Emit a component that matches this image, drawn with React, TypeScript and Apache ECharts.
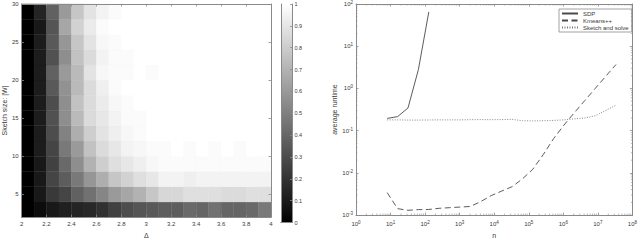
import React, { useEffect, useRef } from 'react';
import * as echarts from 'echarts';

// ---------- Left panel: heatmap ----------
const deltas = [2.05, 2.15, 2.25, 2.35, 2.45, 2.55, 2.65, 2.75, 2.85, 2.95, 3.05, 3.15, 3.25, 3.35, 3.45, 3.55, 3.65, 3.75, 3.85, 3.95];
const sketchSizes = [3, 5, 7, 9, 11, 13, 15, 17, 19, 21, 23, 25, 27, 29];
// one row per sketch size (3 .. 29), one value per delta
const accuracy: number[][] = [
  [0, 0.06, 0.1, 0.13, 0.15, 0.16, 0.2, 0.26, 0.3, 0.33, 0.35, 0.36, 0.37, 0.42, 0.4, 0.45, 0.4, 0.4, 0.42, 0.48],
  [0, 0.1, 0.22, 0.27, 0.38, 0.45, 0.52, 0.6, 0.65, 0.7, 0.78, 0.83, 0.84, 0.86, 0.87, 0.86, 0.85, 0.85, 0.86, 0.86],
  [0, 0.1, 0.27, 0.36, 0.47, 0.58, 0.68, 0.77, 0.82, 0.87, 0.9, 0.94, 0.95, 0.93, 0.94, 0.94, 0.95, 0.95, 0.94, 0.95],
  [0, 0.1, 0.25, 0.42, 0.55, 0.7, 0.8, 0.86, 0.9, 0.93, 0.96, 0.97, 0.97, 0.97, 0.98, 0.97, 0.97, 0.98, 0.97, 0.98],
  [0, 0.12, 0.28, 0.47, 0.6, 0.75, 0.85, 0.9, 0.94, 0.96, 0.97, 0.98, 0.99, 0.98, 0.99, 0.98, 0.99, 0.98, 0.99, 0.99],
  [0, 0.12, 0.3, 0.5, 0.68, 0.8, 0.88, 0.93, 0.96, 0.98, 0.99, 0.99, 1, 1, 1, 1, 1, 1, 1, 1],
  [0, 0.12, 0.32, 0.55, 0.72, 0.85, 0.9, 0.95, 0.97, 0.98, 0.99, 1, 1, 1, 1, 1, 1, 1, 1, 1],
  [0, 0.12, 0.3, 0.55, 0.75, 0.85, 0.92, 0.96, 0.98, 0.99, 1, 1, 1, 1, 1, 1, 1, 1, 1, 1],
  [0, 0.12, 0.35, 0.57, 0.72, 0.85, 0.93, 0.97, 1, 1, 1, 1, 1, 1, 1, 1, 1, 1, 1, 1],
  [0, 0.12, 0.38, 0.6, 0.72, 0.88, 0.96, 0.98, 0.98, 0.99, 0.97, 1, 1, 1, 1, 1, 1, 1, 1, 1],
  [0, 0.12, 0.32, 0.55, 0.75, 0.85, 0.95, 0.98, 0.98, 0.99, 1, 1, 1, 1, 1, 1, 1, 1, 1, 1],
  [0, 0.12, 0.35, 0.58, 0.78, 0.88, 0.96, 0.98, 1, 1, 1, 1, 1, 1, 1, 1, 1, 1, 1, 1],
  [0, 0.1, 0.33, 0.65, 0.82, 0.92, 0.98, 1, 1, 1, 1, 1, 1, 1, 1, 1, 1, 1, 1, 1],
  [0, 0.15, 0.38, 0.6, 0.78, 0.88, 0.94, 0.97, 1, 1, 1, 1, 1, 1, 1, 1, 1, 1, 1, 1],
];
const sizeTicks = [5, 10, 15, 20, 25, 30];
const colorbarTop = [1];

// ---------- Right panel: runtimes ----------
const nValues = [8, 16, 32, 64, 128, 256, 512, 1024, 2048, 4096, 8192, 16384, 32768, 65536, 131072, 262144, 524288, 1048576, 2097152, 4194304, 8388608, 16777216, 33554432];
const sdpTime = [0.195, 0.215, 0.345, 2.8, 65];
const kmeansTime = [0.0034, 0.00142, 0.0013, 0.00135, 0.00136, 0.00145, 0.0015, 0.00155, 0.0016, 0.0021, 0.0029, 0.0037, 0.0047, 0.0072, 0.0122, 0.027, 0.065, 0.136, 0.268, 0.518, 1.0, 1.93, 3.69];
const sketchTime = [0.18, 0.18, 0.178, 0.178, 0.179, 0.18, 0.18, 0.18, 0.182, 0.183, 0.182, 0.183, 0.185, 0.172, 0.17, 0.172, 0.175, 0.18, 0.19, 0.2, 0.225, 0.3, 0.4];
const xDecades = [0, 1, 2, 3, 4, 5, 6, 7];
const yDecades = [-3, -2, -1, 0, 1];
const minorMultipliers = [2, 3, 4, 5, 6, 7, 8, 9];

const FONT = 'Liberation Sans';
const AXIS = '#8a8a8a';
const TXT = '#3a3a3a';

function gray(v: number) {
  const idx = Math.max(0, Math.min(63, Math.floor(v * 64)));
  const g = Math.round((idx / 63) * 255);
  return `rgb(${g},${g},${g})`;
}

export default function App() {
  const ref = useRef<HTMLDivElement>(null);
  useEffect(() => {
    if (!ref.current) return;
    const chart = echarts.init(ref.current, undefined, { renderer: 'svg' });

    const heatData: number[][] = [];
    sketchSizes.forEach((s, r) => deltas.forEach((d, c) => heatData.push([d, s, accuracy[r][c]])));
    const dx = deltas[1] - deltas[0];
    const dy = sketchSizes[1] - sketchSizes[0];

    const minorX: number[][] = [];
    xDecades.forEach((k) => minorMultipliers.forEach((m) => minorX.push([m * Math.pow(10, k), 1])));
    const minorY: number[][] = [];
    yDecades.forEach((k) => minorMultipliers.forEach((m) => minorY.push([1, m * Math.pow(10, k)])));

    const lineAxis = { show: true, lineStyle: { color: AXIS, width: 1 } };
    const tickIn = { show: true, inside: true, length: 2.5, lineStyle: { color: AXIS, width: 0.8 } };
    const lbl = { color: TXT, fontSize: 6, fontFamily: FONT };
    const nameStyle = { color: TXT, fontSize: 7, fontFamily: FONT };
    const logFmt = (v: number) => `{b|10}{e|${Math.round(Math.log10(v))}}`;
    const rich = {
      b: { fontSize: 6, fontFamily: FONT, color: TXT },
      e: { fontSize: 4.5, fontFamily: FONT, color: TXT, verticalAlign: 'top', padding: [0, 0, 3, 0] },
    };

    const option: any = {
      animation: false,
      textStyle: { fontFamily: FONT },
      grid: [
        { left: 18, top: 4, width: 253, height: 218.5 },
        { left: 281, top: 4, width: 11, height: 218.5 },
        { left: 356, top: 4, width: 279, height: 218.7 },
      ],
      legend: {
        data: ['SDP', 'Kmeans++', 'Sketch and solve'],
        orient: 'vertical',
        left: 559,
        top: 9,
        padding: [1.5, 3, 1.5, 2],
        itemWidth: 16,
        itemHeight: 6.5,
        itemGap: 1,
        backgroundColor: '#fff',
        borderColor: '#8a8a8a',
        borderWidth: 0.8,
        borderRadius: 0,
        itemStyle: { opacity: 0 },
        textStyle: { color: TXT, fontSize: 6, fontFamily: FONT },
      },
      xAxis: [
        { gridIndex: 0, type: 'value', min: 2, max: 4, interval: 0.2, position: 'bottom', z: 10,
          axisLine: lineAxis, axisTick: tickIn, splitLine: { show: false },
          axisLabel: { ...lbl, margin: 4 },
          name: 'Δ', nameLocation: 'middle', nameGap: 13, nameTextStyle: nameStyle },
        { gridIndex: 0, type: 'value', min: 2, max: 4, interval: 0.2, position: 'top', z: 10,
          axisLine: lineAxis, axisTick: tickIn, splitLine: { show: false }, axisLabel: { show: false } },
        { gridIndex: 1, type: 'category', data: ['cb'], position: 'bottom', z: 10,
          axisLine: lineAxis, axisTick: { show: false }, axisLabel: { show: false } },
        { gridIndex: 1, type: 'category', data: ['cb'], position: 'top', z: 10,
          axisLine: lineAxis, axisTick: { show: false }, axisLabel: { show: false } },
        { gridIndex: 2, type: 'log', logBase: 10, min: 1, max: 1e8, position: 'bottom', z: 10,
          axisLine: lineAxis, axisTick: tickIn, splitLine: { show: false },
          axisLabel: { formatter: logFmt, rich, margin: 5 },
          name: 'n', nameLocation: 'middle', nameGap: 14, nameTextStyle: nameStyle },
        { gridIndex: 2, type: 'log', logBase: 10, min: 1, max: 1e8, position: 'top', z: 10,
          axisLine: lineAxis, axisTick: tickIn, splitLine: { show: false }, axisLabel: { show: false } },
      ],
      yAxis: [
        { gridIndex: 0, type: 'value', min: 2, max: 30, position: 'left', z: 10,
          axisLine: lineAxis, axisTick: { ...tickIn, customValues: sizeTicks }, splitLine: { show: false },
          axisLabel: { ...lbl, margin: 3, customValues: sizeTicks },
          name: 'Sketch size: |W|', nameLocation: 'middle', nameGap: 10, nameTextStyle: nameStyle },
        { gridIndex: 0, type: 'value', min: 2, max: 30, position: 'right', z: 10,
          axisLine: lineAxis, axisTick: { ...tickIn, customValues: sizeTicks }, splitLine: { show: false },
          axisLabel: { show: false, customValues: sizeTicks } },
        { gridIndex: 1, type: 'value', min: 0, max: 1, interval: 0.1, position: 'right', z: 10,
          axisLine: lineAxis, axisTick: { ...tickIn, length: 2 }, splitLine: { show: false },
          axisLabel: { color: TXT, fontSize: 5.5, fontFamily: FONT, margin: 2.5 } },
        { gridIndex: 1, type: 'value', min: 0, max: 1, interval: 0.1, position: 'left', z: 10,
          axisLine: lineAxis, axisTick: { show: false }, splitLine: { show: false }, axisLabel: { show: false } },
        { gridIndex: 2, type: 'log', logBase: 10, min: 1e-3, max: 1e2, position: 'left', z: 10,
          axisLine: lineAxis, axisTick: tickIn, splitLine: { show: false },
          axisLabel: { formatter: logFmt, rich, margin: 3 },
          name: 'average runtime', nameLocation: 'middle', nameGap: 15, nameTextStyle: nameStyle },
        { gridIndex: 2, type: 'log', logBase: 10, min: 1e-3, max: 1e2, position: 'right', z: 10,
          axisLine: lineAxis, axisTick: tickIn, splitLine: { show: false }, axisLabel: { show: false } },
      ],
      series: [
        {
          type: 'custom', xAxisIndex: 0, yAxisIndex: 0, data: heatData, silent: true,
          renderItem: (_p: any, api: any) => {
            const x = api.value(0), y = api.value(1), v = api.value(2);
            const p0 = api.coord([x - dx / 2, y + dy / 2]);
            const p1 = api.coord([x + dx / 2, y - dy / 2]);
            const c = gray(v);
            return { type: 'rect', shape: { x: p0[0], y: p0[1], width: p1[0] - p0[0], height: p1[1] - p0[1] },
              style: { fill: c, stroke: c, lineWidth: 0.4 } };
          },
        },
        {
          type: 'bar', xAxisIndex: 2, yAxisIndex: 2, data: colorbarTop, barWidth: '100%', silent: true,
          itemStyle: { color: new echarts.graphic.LinearGradient(0, 1, 0, 0, [
            { offset: 0, color: '#000' }, { offset: 1, color: '#fff' }]) },
        },
        { name: 'SDP', type: 'line', xAxisIndex: 4, yAxisIndex: 4, symbol: 'none',
          data: sdpTime.map((t, i) => [nValues[i], t]),
          lineStyle: { color: '#4a4a4a', width: 0.9, type: 'solid' } },
        { name: 'Kmeans++', type: 'line', xAxisIndex: 4, yAxisIndex: 4, symbol: 'none',
          data: kmeansTime.map((t, i) => [nValues[i], t]),
          lineStyle: { color: '#4a4a4a', width: 0.9, type: [6, 3.5] } },
        { name: 'Sketch and solve', type: 'line', xAxisIndex: 4, yAxisIndex: 4, symbol: 'none',
          data: sketchTime.map((t, i) => [nValues[i], t]),
          lineStyle: { color: '#7a7a7a', width: 0.9, type: [1, 1.5] } },
        {
          type: 'custom', xAxisIndex: 4, yAxisIndex: 4, data: minorX, silent: true, z: 11,
          renderItem: (_p: any, api: any) => {
            const v = api.value(0);
            const b = api.coord([v, 1e-3]);
            const t = api.coord([v, 1e2]);
            const st = { stroke: AXIS, lineWidth: 0.6 };
            return { type: 'group', children: [
              { type: 'line', shape: { x1: b[0], y1: b[1], x2: b[0], y2: b[1] - 1.5 }, style: st },
              { type: 'line', shape: { x1: t[0], y1: t[1], x2: t[0], y2: t[1] + 1.5 }, style: st },
            ] };
          },
        },
        {
          type: 'custom', xAxisIndex: 4, yAxisIndex: 4, data: minorY, silent: true, z: 11,
          renderItem: (_p: any, api: any) => {
            const v = api.value(1);
            const l = api.coord([1, v]);
            const r = api.coord([1e8, v]);
            const st = { stroke: AXIS, lineWidth: 0.6 };
            return { type: 'group', children: [
              { type: 'line', shape: { x1: l[0], y1: l[1], x2: l[0] + 1.5, y2: l[1] }, style: st },
              { type: 'line', shape: { x1: r[0], y1: r[1], x2: r[0] - 1.5, y2: r[1] }, style: st },
            ] };
          },
        },
      ],
    };
    chart.setOption(option);
    return () => chart.dispose();
  }, []);
  return <div ref={ref} style={{ width: 640, height: 244, position: 'absolute', left: 0, top: 0 }} />;
}
